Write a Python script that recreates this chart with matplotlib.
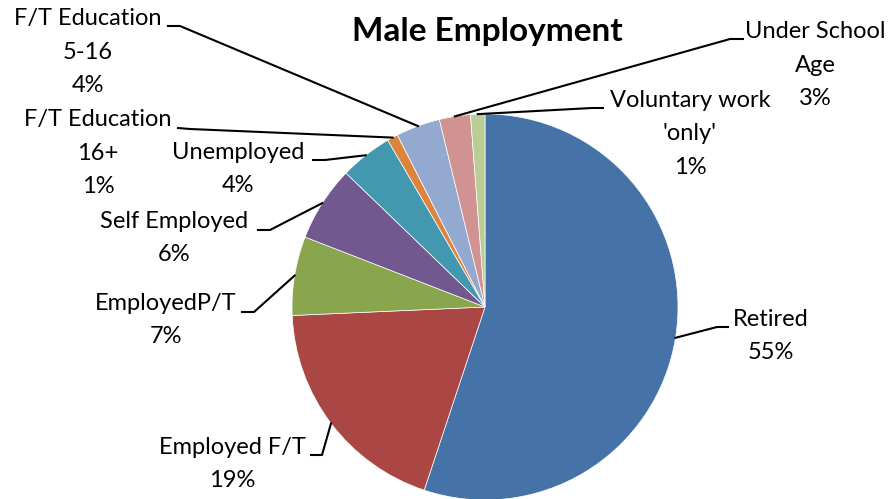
import numpy as np
import matplotlib.pyplot as plt

# male employment shares (%)
categories = ['Retired', 'Employed F/T', 'EmployedP/T', 'Self Employed',
              'Unemployed', 'F/T Education\n16+', 'F/T Education\n5-16',
              'Under School\nAge', "Voluntary work\n'only'"]
values = [55.1, 19.2, 6.6, 6.3, 4.4, 0.9, 3.7, 2.6, 1.2]
colors = ['#4572A7', '#AA4643', '#89A54E', '#71588F', '#4198AF',
          '#DB843D', '#93A9CF', '#D19392', '#B9CD96']

# label placement in pixel coords (y down): text centre, elbow, line end
text_xy = [(771, 336), (232, 464), (166, 320), (174, 238), (238, 169),
           (98, 153), (88, 52), (815, 65), (690, 134)]
elbow_xy = [(717, 327), (322, 455), (254, 312), (270, 230), (325, 160),
            (190, 129), (180, 26), (730, 39), (592, 108)]
end_xy = [(728, 327), (311, 455), (242, 312), (258, 230), (313, 160),
          (178, 128), (168, 26), (743, 39), (603, 108)]

plt.rcParams['font.family'] = ['Lato', 'DejaVu Sans']

fig = plt.figure(figsize=(8.92, 4.99), dpi=100)
ax = fig.add_axes([0, 0, 1, 1])

cx, cy, r = 485, 307, 193
# y axis runs downward (pixel-like), so counterclock=True looks clockwise
wedges, _ = ax.pie(values, colors=colors, startangle=-90, counterclock=True,
                   center=(cx, cy), radius=r,
                   wedgeprops=dict(edgecolor='white', linewidth=0.5))
ax.set_xlim(0, 892)
ax.set_ylim(499, 0)
ax.set_aspect('equal')
ax.axis('off')

for i, w in enumerate(wedges):
    mid = np.deg2rad((w.theta1 + w.theta2) / 2)
    px, py = cx + r * np.cos(mid), cy + r * np.sin(mid)
    ax.plot([px, elbow_xy[i][0], end_xy[i][0]],
            [py, elbow_xy[i][1], end_xy[i][1]], color='black', lw=1.5,
            clip_on=False)
    label = '%s\n%d%%' % (categories[i], round(values[i]))
    ax.text(text_xy[i][0], text_xy[i][1], label, ha='center', va='center',
            fontsize=17, linespacing=1.72)

ax.text(487, 31, 'Male Employment', ha='center', va='center',
        fontsize=24, fontweight='bold')

fig.savefig('out.png', dpi=100)
